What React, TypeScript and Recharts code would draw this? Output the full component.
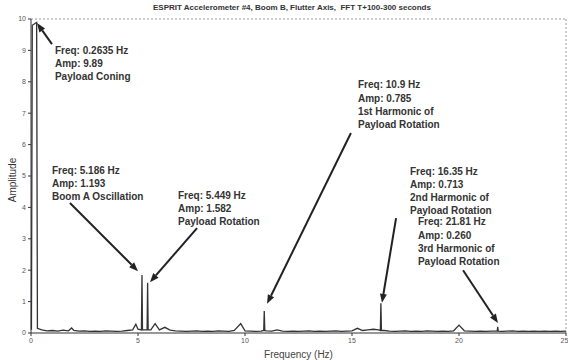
import React from 'react';
import { LineChart, Line, XAxis, YAxis, ReferenceLine, ReferenceDot } from 'recharts';

// FFT noise floor, [frequency Hz, amplitude]
const noiseFloor: [number, number][] = [
  [0.5, 0.1], [0.75, 0.07], [1, 0.08], [1.25, 0.06], [1.5, 0.09], [1.75, 0.07], [1.9, 0.16],
  [2.0, 0.08], [2.25, 0.06], [2.5, 0.07], [2.75, 0.05], [3, 0.06], [3.25, 0.05], [3.5, 0.07],
  [3.75, 0.06], [4, 0.05], [4.25, 0.06], [4.5, 0.08], [4.75, 0.1], [4.9, 0.28], [5.0, 0.12],
  [5.6, 0.1], [5.8, 0.3], [6.0, 0.1], [6.25, 0.18], [6.5, 0.09], [6.75, 0.07], [7, 0.06],
  [7.25, 0.05], [7.5, 0.06], [7.75, 0.07], [8, 0.05], [8.25, 0.06], [8.5, 0.05], [8.75, 0.07],
  [9, 0.06], [9.25, 0.05], [9.5, 0.08], [9.8, 0.3], [10, 0.07], [10.25, 0.06], [10.5, 0.05],
  [10.75, 0.06], [11.0, 0.07], [11.25, 0.06], [11.5, 0.1], [11.75, 0.06], [12, 0.05], [12.25, 0.06],
  [12.5, 0.05], [12.75, 0.06], [13, 0.07], [13.25, 0.05], [13.5, 0.06], [13.75, 0.05], [14, 0.06],
  [14.25, 0.07], [14.5, 0.05], [14.75, 0.06], [15, 0.07], [15.25, 0.15], [15.5, 0.08], [15.75, 0.1],
  [16, 0.12], [16.25, 0.1], [16.5, 0.08], [16.75, 0.06], [17, 0.05], [17.25, 0.06], [17.5, 0.07],
  [17.75, 0.05], [18, 0.06], [18.25, 0.05], [18.5, 0.07], [18.75, 0.06], [19, 0.05], [19.25, 0.06],
  [19.5, 0.05], [19.75, 0.07], [20, 0.25], [20.25, 0.07], [20.5, 0.06], [20.75, 0.05], [21, 0.06],
  [21.25, 0.05], [21.5, 0.06], [22, 0.05], [22.25, 0.06], [22.5, 0.07], [22.75, 0.05], [23, 0.06],
  [23.25, 0.05], [23.5, 0.06], [23.75, 0.05], [24, 0.06], [24.25, 0.05], [24.5, 0.06], [24.75, 0.05],
  [25, 0.06],
];

// spectral lines, with the bins either side of each peak
const peaks: [number, number][] = [
  [0.02, 0.1], [0.06, 9.8], [0.2635, 9.89], [0.3, 0.15],
  [5.16, 0.1], [5.186, 1.85], [5.21, 0.1],
  [5.425, 0.1], [5.449, 1.6], [5.475, 0.1],
  [10.875, 0.08], [10.9, 0.7], [10.925, 0.08],
  [16.325, 0.08], [16.35, 0.95], [16.375, 0.08],
  [21.785, 0.06], [21.81, 0.2], [21.835, 0.06],
];

const xTicks = [0, 5, 10, 15, 20, 25];
const yTicks = [0, 1, 2, 3, 4, 5, 6, 7, 8, 9, 10];

// callouts: text anchor, arrow tail and arrow tip in data units
const notes = [
  { lines: ['Freq: 0.2635 Hz', 'Amp: 9.89', 'Payload Coning'], text: [1.12, 9.01], tail: [0.98, 9.2], tip: [0.28, 9.87] },
  { lines: ['Freq: 5.186 Hz', 'Amp: 1.193', 'Boom A Oscillation'], text: [0.98, 5.19], tail: [1.82, 4.14], tip: [5.0, 1.97] },
  { lines: ['Freq: 5.449 Hz', 'Amp: 1.582', 'Payload Rotation'], text: [6.87, 4.39], tail: [7.76, 3.34], tip: [5.56, 1.62] },
  { lines: ['Freq: 10.9 Hz', 'Amp: 0.785', '1st Harmonic of', 'Payload Rotation'], text: [15.28, 7.9], tail: [14.95, 6.37], tip: [11.03, 0.93] },
  { lines: ['Freq: 16.35 Hz', 'Amp: 0.713', '2nd Harmonic of', 'Payload Rotation'], text: [17.71, 5.13], tail: [17.06, 3.66], tip: [16.4, 0.96] },
  { lines: ['Freq: 21.81 Hz', 'Amp: 0.260', '3rd Harmonic of', 'Payload Rotation'], text: [18.08, 3.54], tail: [20.19, 2.0], tip: [21.82, 0.32] },
];

const FONT = '"Liberation Sans", Arial, sans-serif';

const Arrow = (props: any) => {
  const { x1, y1, x2, y2 } = props;
  const ang = Math.atan2(y2 - y1, x2 - x1);
  const len = 9;
  const half = 3.5;
  const bx = x2 - len * Math.cos(ang);
  const by = y2 - len * Math.sin(ang);
  const p1 = `${bx + half * Math.sin(ang)},${by - half * Math.cos(ang)}`;
  const p2 = `${bx - half * Math.sin(ang)},${by + half * Math.cos(ang)}`;
  return (
    <g>
      <line x1={x1} y1={y1} x2={bx} y2={by} stroke="#222" strokeWidth={2} />
      <polygon points={`${x2},${y2} ${p1} ${p2}`} fill="#222" />
    </g>
  );
};

const NoteText = ({ cx, cy, lines, step }: any) => (
  <text x={cx} y={cy + 3.5} fontSize={10} fontFamily={FONT} fontWeight={600} fill="#333">
    {lines.map((l: string, i: number) => (
      <tspan key={i} x={cx} dy={i === 0 ? 0 : step}>{l}</tspan>
    ))}
  </text>
);

export default function App() {
  const spectrum = [...noiseFloor, ...peaks]
    .sort((a, b) => a[0] - b[0])
    .map(([f, a]) => ({ f, a }));

  return (
    <div style={{ position: 'absolute', left: 0, top: 0, width: 568, height: 360, background: '#fff', fontFamily: FONT }}>
      <div style={{ position: 'absolute', left: 0, width: 568, top: 3, textAlign: 'center', fontSize: 8, fontWeight: 700, color: '#333', paddingLeft: 16, boxSizing: 'border-box' }}>
        ESPRIT Accelerometer #4, Boom B, Flutter Axis,&nbsp; FFT T+100-300 seconds
      </div>
      <LineChart width={568} height={360} data={spectrum} margin={{ top: 19, right: 2, left: 0, bottom: 0 }}>
        <XAxis
          type="number"
          dataKey="f"
          domain={[0, 25]}
          ticks={xTicks}
          height={27}
          tick={{ fontSize: 7, fill: '#555', fontFamily: FONT }}
          tickSize={3}
          stroke="#333"
          label={{ value: 'Frequency (Hz)', position: 'insideBottom', offset: 2, fontSize: 10, fill: '#444', fontFamily: FONT }}
        />
        <YAxis
          type="number"
          domain={[0, 10]}
          ticks={yTicks}
          width={31}
          tick={{ fontSize: 7, fill: '#555', fontFamily: FONT }}
          tickSize={3}
          stroke="#333"
          label={{
            content: () => (
              <text x={12} y={180} transform="rotate(-90 12 180)" textAnchor="middle" dominantBaseline="central" fontSize={10} fill="#333" fontFamily={FONT}>
                Amplitude
              </text>
            ),
          }}
        />
        <ReferenceLine y={10} stroke="#999" strokeDasharray="2 2" ifOverflow="visible" />
        <ReferenceLine x={25} stroke="#999" strokeDasharray="2 2" ifOverflow="visible" />
        <Line type="linear" dataKey="a" stroke="#333" strokeWidth={1.3} dot={false} isAnimationActive={false} />
        {notes.map((n, i) => (
          <ReferenceLine
            key={'a' + i}
            segment={[{ x: n.tail[0], y: n.tail[1] }, { x: n.tip[0], y: n.tip[1] }]}
            ifOverflow="visible"
            shape={Arrow}
          />
        ))}
        {notes.map((n, i) => (
          <ReferenceDot
            key={'t' + i}
            x={n.text[0]}
            y={n.text[1]}
            r={0}
            ifOverflow="visible"
            shape={(p: any) => <NoteText {...p} lines={n.lines} step={i === 4 ? 12.7 : 13.3} />}
          />
        ))}
      </LineChart>
    </div>
  );
}
